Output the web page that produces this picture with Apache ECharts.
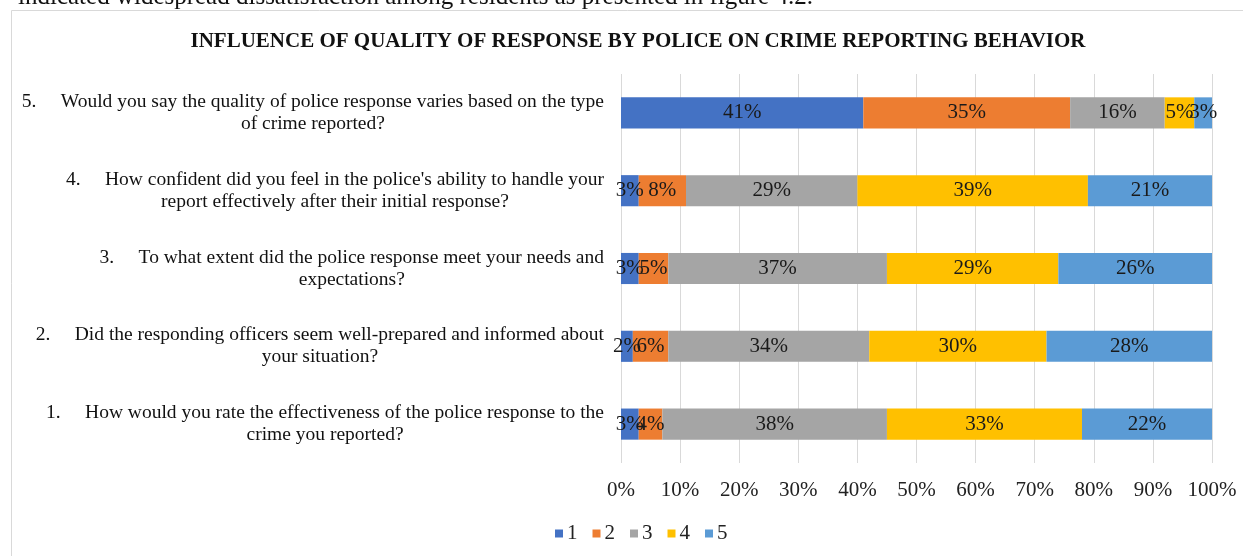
<!DOCTYPE html>
<html>
<head>
<meta charset="utf-8">
<script src="https://cdn.jsdelivr.net/npm/echarts@6/dist/echarts.min.js"></script>
<style>
  html, body { margin: 0; padding: 0; background: #ffffff; }
  #chart { width: 1243px; height: 556px; }
</style>
</head>
<body>
<div id="chart"></div>
<script>
// Survey questions, bottom (1) to top (5); each is [first line, second line]
const questions = [
  ['1.     How would you rate the effectiveness of the police response to the', 'crime you reported?'],
  ['2.     Did the responding officers seem well-prepared and informed about', 'your situation?'],
  ['3.     To what extent did the police response meet your needs and', 'expectations?'],
  ['4.     How confident did you feel in the police\'s ability to handle your', 'report effectively after their initial response?'],
  ['5.     Would you say the quality of police response varies based on the type', 'of crime reported?']
];

// Rating names (legend)
const ratings = ['1', '2', '3', '4', '5'];

// Share of answers (%) per rating, one value per question 1..5
const rating1 = [3, 2, 3, 3, 41];
const rating2 = [4, 6, 5, 8, 35];
const rating3 = [38, 34, 37, 29, 16];
const rating4 = [33, 30, 29, 39, 5];
const rating5 = [22, 28, 26, 21, 3];

const titleText = 'INFLUENCE OF QUALITY OF RESPONSE BY POLICE ON CRIME REPORTING BEHAVIOR';
const leadText = 'indicated widespread dissatisfaction among residents as presented in figure 4.2.';

const colors = ['#4472C4', '#ED7D31', '#A5A5A5', '#FFC000', '#5B9BD5'];
const serif = "'Liberation Serif', 'Times New Roman', serif";

const chart = echarts.init(document.getElementById('chart'));

const seriesValues = [rating1, rating2, rating3, rating4, rating5];

const option = {
  animation: false,
  color: colors,
  title: {
    text: titleText,
    left: 633,
    textAlign: 'center',
    top: 26,
    textStyle: { fontFamily: serif, fontSize: 21, fontWeight: 'bold', color: '#111' }
  },
  legend: {
    data: ratings,
    left: 550,
    top: 518,
    itemWidth: 8,
    itemHeight: 8,
    itemGap: 15,
    icon: 'rect',
    textStyle: { fontFamily: serif, fontSize: 21, color: '#222', padding: [0, 0, 0, -1] }
  },
  grid: { left: 621, right: 31, top: 74, bottom: 93, containLabel: false },
  xAxis: {
    type: 'value',
    min: 0,
    max: 100,
    interval: 10,
    axisLine: { show: false },
    axisTick: { show: false },
    axisLabel: {
      formatter: '{value}%',
      fontFamily: serif,
      fontSize: 21,
      color: '#222',
      margin: 17
    },
    splitLine: { show: true, lineStyle: { color: '#d9d9d9', width: 1 } }
  },
  yAxis: {
    type: 'category',
    data: questions.map(q => q.join('\n')),
    axisLine: { show: false },
    axisTick: { show: false },
    axisLabel: { show: false },
    splitLine: { show: false }
  },
  series: ratings.map((name, i) => ({
    name: name,
    type: 'bar',
    stack: 'total',
    barWidth: '40%',
    data: seriesValues[i],
    label: {
      show: true,
      position: 'inside',
      formatter: '{c}%',
      fontFamily: serif,
      fontSize: 21,
      color: '#1a1a1a'
    },
    labelLayout: { hideOverlap: false }
  }))
};

chart.setOption(option);

// Category labels: centred text blocks whose first line ends just left of the plot
const measure = document.createElement('canvas').getContext('2d');
const qFont = '19.5px ' + serif;
measure.font = qFont;
const labelRight = 604;
const qGraphics = questions.map((q, idx) => {
  const y = chart.convertToPixel({ yAxisIndex: 0 }, idx);
  const w = measure.measureText(q[0]).width;
  return {
    type: 'text',
    x: labelRight - w / 2,
    y: y,
    style: {
      text: q.join('\n'),
      font: qFont,
      fill: '#111',
      align: 'center',
      verticalAlign: 'middle',
      lineHeight: 22
    }
  };
});

chart.setOption({
  graphic: [
    {
      type: 'text',
      x: 18,
      y: 10,
      style: {
        text: leadText,
        font: '25px ' + serif,
        fill: '#111',
        align: 'left',
        verticalAlign: 'bottom'
      }
    },
    {
      type: 'rect',
      shape: { x: 11.5, y: 10.5, width: 1400, height: 700 },
      style: { fill: 'none', stroke: '#d9d9d9', lineWidth: 1 },
      silent: true
    }
  ].concat(qGraphics)
});
</script>
</body>
</html>
